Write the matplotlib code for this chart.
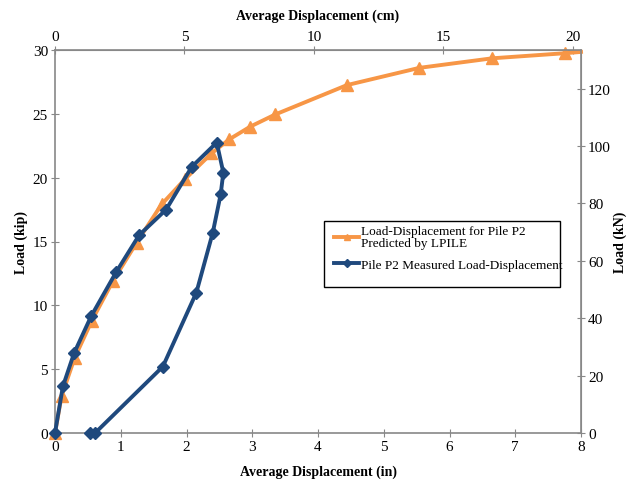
import matplotlib
matplotlib.use("Agg")
import matplotlib.pyplot as plt
from matplotlib.patches import Rectangle

plt.rcParams['font.family'] = ['Liberation Serif', 'DejaVu Serif']

# LPILE predicted
lp_disp = [0.0, 0.10, 0.30, 0.56, 0.88, 1.24, 1.62, 1.98, 2.38, 2.65, 2.97, 3.35, 4.44, 5.54, 6.65, 7.76, 8.0]
lp_load = [0.0, 2.9, 5.9, 8.8, 11.9, 14.9, 17.9, 19.9, 21.9, 23.0, 24.0, 24.95, 27.25, 28.6, 29.35, 29.75, 29.85]
n_lp_markers = 16

# Measured
ms_disp = [0.0, 0.12, 0.29, 0.55, 0.93, 1.28, 1.69, 2.08, 2.46, 2.56, 2.52, 2.40, 2.15, 1.64, 0.61, 0.53]
ms_load = [0.0, 3.65, 6.25, 9.15, 12.6, 15.5, 17.5, 20.85, 22.75, 20.4, 18.7, 15.7, 11.0, 5.2, 0.0, 0.0]

orange = '#F79646'
blue = '#1F497D'
gray = '#888888'

W, H = 635, 481
fig = plt.figure(figsize=(6.35, 4.81), dpi=100)
ax = fig.add_axes([55/W, 47/H, 526/W, 383/H])

ax.plot(lp_disp, lp_load, color=orange, lw=2.8, marker='^', ms=8,
        markevery=list(range(n_lp_markers)), label='Load-Displacement for Pile P2\nPredicted by LPILE',
        zorder=2, clip_on=False)
ax.plot(ms_disp, ms_load, color=blue, lw=2.8, marker='D', ms=6.5,
        label='Pile P2 Measured Load-Displacement', zorder=3, clip_on=False)

ax.set_xlim(0, 8)
ax.set_ylim(0, 30)
ax.set_xticks(range(0, 9))
ax.set_yticks(range(0, 31, 5))

for s in ['left', 'bottom', 'right', 'top']:
    ax.spines[s].set_color(gray)
    ax.spines[s].set_linewidth(1.2)
ax.tick_params(direction='inout', length=6, color=gray, labelsize=11, pad=2)

secx = ax.secondary_xaxis('top', functions=(lambda x: x * 2.54, lambda x: x / 2.54))
secx.set_xticks(range(0, 21, 5))
secx.tick_params(direction='inout', length=6, color=gray, labelsize=11, pad=2)
secx.spines['top'].set_color(gray)

secy = ax.secondary_yaxis('right', functions=(lambda y: y * 4.448, lambda y: y / 4.448))
secy.set_yticks(range(0, 121, 20))
secy.tick_params(direction='inout', length=6, color=gray, labelsize=11, pad=2)
secy.spines['right'].set_color(gray)

lab = dict(fontsize=10, fontweight='bold', ha='center', va='center')
fig.text(318/W, 1 - 472/H, 'Average Displacement (in)', **lab)
fig.text(318/W, 1 - 16/H, 'Average Displacement (cm)', **lab)
fig.text(21/W, 1 - 242/H, 'Load (kip)', rotation=90, **lab)
fig.text(620/W, 1 - 242/H, 'Load (kN)', rotation=90, **lab)

ax.add_patch(Rectangle((324/W, 1 - 288/H), 236/W, 66/H, transform=fig.transFigure,
                       fill=True, facecolor='white', edgecolor='black', lw=1.0,
                       zorder=4, clip_on=False))
leg = ax.legend(loc='upper left', bbox_to_anchor=(334/W, 1 - 226/H), bbox_transform=fig.transFigure,
                fontsize=9.5, frameon=False, handlelength=1.9, handletextpad=0.15,
                borderpad=0, borderaxespad=0, labelspacing=0.7, markerscale=0.6)
leg.get_texts()[0].set_linespacing(1.05)
leg.set_zorder(5)

fig.savefig('out.png', dpi=100)
